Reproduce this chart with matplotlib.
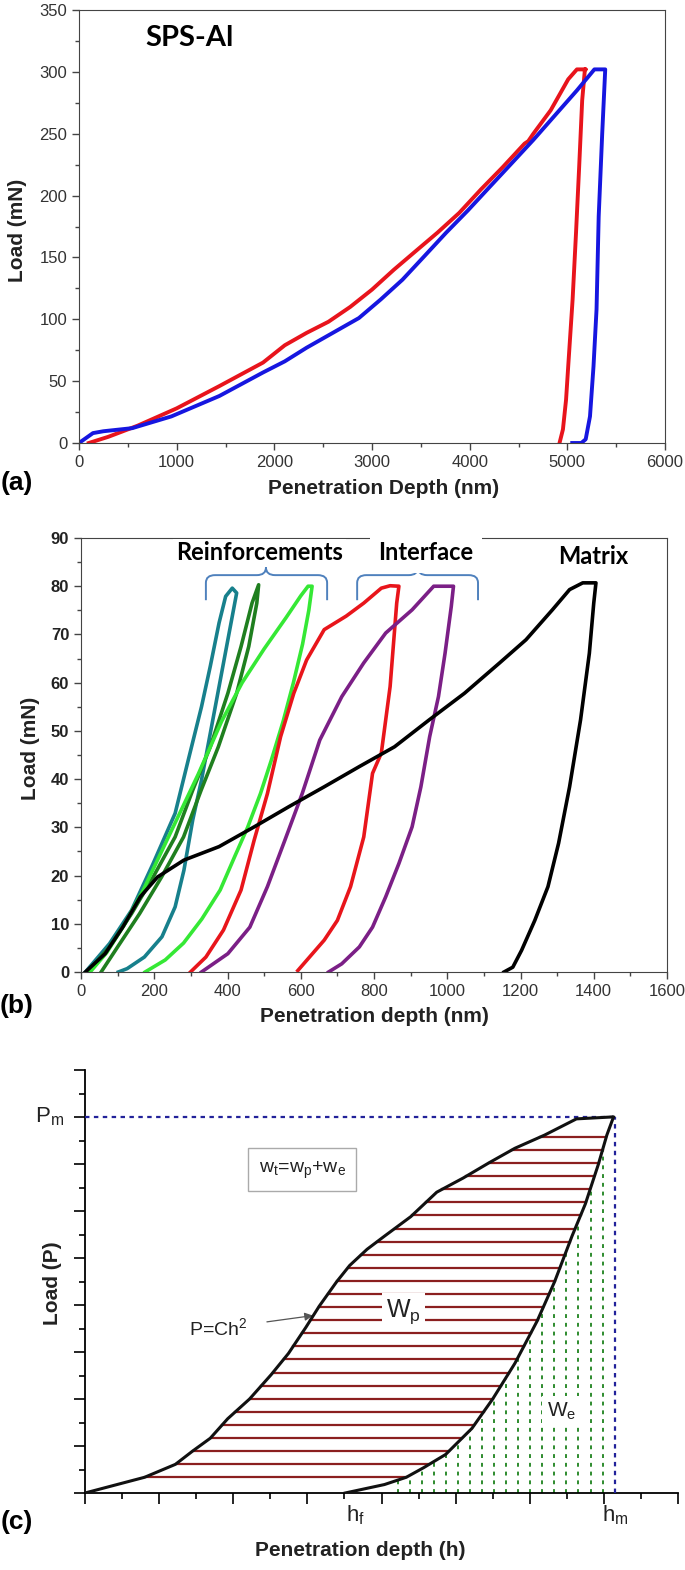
import numpy as np
import matplotlib
matplotlib.use("Agg")
import matplotlib.pyplot as plt
from matplotlib.path import Path
from matplotlib.patches import PathPatch
from matplotlib.ticker import MultipleLocator

plt.rcParams['font.family'] = ['Liberation Sans', 'DejaVu Sans']

W, H = 685, 1570

# ---------------- panel (a): SPS-Al ----------------
red_a_x = [100, 300, 600, 1000, 1437, 1884, 2107, 2330, 2554, 2777, 3000, 3223, 3446, 3670,
           3893, 4116, 4339, 4562, 4600, 4652, 4830, 5009, 5098, 5188, 5180, 5152, 5121,
           5089, 5054, 5009, 4987, 4955, 4920]
red_a_y = [0, 5, 14, 28, 46, 65, 79, 89, 98, 110, 124, 140, 155, 170, 186, 205, 223, 242,
           244, 250, 269, 294, 302, 302, 302, 277, 223, 170, 116, 62, 35, 11, 0]
blue_a_x = [0, 143, 250, 545, 946, 1437, 1884, 2107, 2330, 2598, 2866, 3089, 3312, 3536,
            3759, 3982, 4205, 4429, 4652, 4875, 5098, 5277, 5388, 5357, 5321, 5299, 5268,
            5232, 5188, 5143, 5050]
blue_a_y = [0, 8, 9.5, 12, 21.5, 38, 57, 66, 77, 89, 101, 116, 132, 151, 170, 188, 207,
            226, 245, 265, 285, 302, 302, 250, 183, 108, 62, 21.5, 3, 0, 0]

# ---------------- panel (b): reinforcements / interface / matrix ----------------
teal_x = [12, 78, 138, 197, 257, 293, 329, 353, 377, 395, 413, 425, 401, 377, 353, 329,
          305, 281, 257, 221, 173, 126, 102]
teal_y = [0, 5.9, 12.8, 22.5, 32.9, 44, 55, 63.4, 72.4, 77.9, 79.6, 78.6, 68.9, 59.2,
          49.5, 39.8, 31.5, 21.1, 13.5, 7.3, 3.1, 0.7, 0]
dkgreen_x = [18, 78, 138, 197, 257, 305, 353, 401, 437, 467, 485, 480, 458, 425, 375,
             328, 280, 220, 160, 100, 55]
dkgreen_y = [0, 5.2, 12.1, 19.7, 28, 37.7, 46.7, 57.8, 67.5, 76.5, 80.3, 76.5, 67.5,
             57.8, 46.7, 37.7, 28, 19.7, 12.1, 5.2, 0]
ltgreen_x = [25, 70, 120, 170, 220, 270, 320, 384, 440, 500, 560, 600, 620, 631, 622,
             605, 580, 552, 520, 490, 455, 420, 380, 330, 280, 230, 175]
ltgreen_y = [0, 4, 10, 17, 25, 33, 41, 52, 60, 67, 73.5, 78, 80, 80, 75, 68, 60, 52, 44,
             37, 30, 24, 17, 11, 6, 2.5, 0]
red_b_x = [299, 341, 389, 437, 473, 509, 545, 581, 616, 664, 724, 772, 820, 844, 868, 862,
           844, 820, 796, 772, 736, 700, 664, 616, 592]
red_b_y = [0, 3.1, 8.7, 17, 27.4, 37, 48.8, 57.8, 64.7, 71, 73.8, 76.5, 79.6, 80.1, 80,
           76.5, 59.2, 45.4, 41.2, 28, 17.7, 10.7, 6.6, 2.4, 0.3]
purple_x = [329, 401, 461, 509, 557, 604, 652, 712, 772, 832, 904, 963, 1017, 1011, 994,
            976, 952, 928, 904, 868, 832, 796, 760, 712, 676]
purple_y = [0, 3.8, 9.3, 17.7, 27.4, 37, 48.1, 57.1, 64.1, 70.3, 75.1, 80, 80, 75.8, 66.1,
            57.1, 48.8, 38.4, 30.1, 22.5, 15.6, 9.3, 5.2, 1.7, 0]
black_x = [12, 66, 114, 162, 209, 281, 377, 473, 568, 664, 760, 856, 951, 1047, 1143, 1215,
           1287, 1334, 1370, 1406, 1400, 1388, 1364, 1334, 1304, 1275, 1239, 1203, 1179,
           1155]
black_y = [0, 3.8, 9.3, 15.6, 19.7, 23.2, 26, 30.1, 34.3, 38.4, 42.6, 46.7, 52.3, 57.8,
           64.1, 68.9, 75.1, 79.3, 80.7, 80.7, 76.5, 66.1, 52.3, 38.4, 26.7, 17.7, 10.7,
           4.5, 1, 0]

# ---------------- panel (c): schematic ----------------
load_h = [0, 1.61, 2.44, 2.9, 3.38, 3.85, 4.44, 5.02, 5.49, 5.96, 6.32, 6.79, 7.14, 7.61,
          8.08, 8.79, 9.49, 10.2, 10.9, 11.6, 12.4, 13.26, 14.2]
load_p = [0, 0.67, 1.22, 1.78, 2.33, 3.16, 4.0, 5.03, 5.94, 7.05, 7.95, 8.99, 9.68, 10.37,
          10.93, 11.76, 12.8, 13.4, 14.05, 14.67, 15.23, 15.92, 16.0]
unload_h = [14.26, 14.08, 13.85, 13.5, 13.14, 12.67, 12.2, 11.6, 11.0, 10.44, 9.73, 9.14,
            8.67, 8.08, 7.02]
unload_p = [16, 15.23, 13.98, 12.3, 10.93, 8.99, 7.32, 5.52, 4.0, 2.75, 1.64, 1.08, 0.67,
            0.36, 0]
P_max = 16
h_max = 14.3
h_f = 7.3


def px_axes(fig, left, top, right, bottom):
    return fig.add_axes([left / W, 1 - bottom / H, (right - left) / W, (bottom - top) / H])


def ftext(fig, x, y, s, **kw):
    fig.text(x / W, 1 - y / H, s, ha='center', va='center', **kw)


def brace(ax, x0, x1, xm, y_low, y_top, y_peak, rx, ry, color):
    verts = [(x0, y_low), (x0, y_top - ry), (x0, y_top), (x0 + rx, y_top),
             (xm - rx, y_top), (xm, y_top), (xm, y_peak), (xm, y_top), (xm + rx, y_top),
             (x1 - rx, y_top), (x1, y_top), (x1, y_top - ry), (x1, y_low)]
    codes = [Path.MOVETO, Path.LINETO, Path.CURVE3, Path.CURVE3, Path.LINETO, Path.CURVE3,
             Path.CURVE3, Path.CURVE3, Path.CURVE3, Path.LINETO, Path.CURVE3, Path.CURVE3,
             Path.LINETO]
    ax.add_patch(PathPatch(Path(verts, codes), fill=False, edgecolor=color, lw=1.4,
                           clip_on=False, zorder=5))


fig = plt.figure(figsize=(W / 100, H / 100), dpi=100)
tick_col = '#333333'

# ---- (a)
ax = px_axes(fig, 79, 10, 665, 443)
ax.plot(red_a_x, red_a_y, color='#e8141c', lw=2.8, solid_joinstyle='round')
ax.plot(blue_a_x, blue_a_y, color='#1616e0', lw=2.8, solid_joinstyle='round')
ax.set_xlim(0, 6000)
ax.set_ylim(0, 350)
ax.xaxis.set_major_locator(MultipleLocator(1000))
ax.xaxis.set_minor_locator(MultipleLocator(500))
ax.yaxis.set_major_locator(MultipleLocator(50))
ax.yaxis.set_minor_locator(MultipleLocator(25))
ax.tick_params(which='major', direction='out', length=5, width=1, labelsize=12,
               labelcolor=tick_col, color='#444444')
ax.tick_params(which='minor', direction='out', length=3, width=1, color='#444444')
for s in ax.spines.values():
    s.set_color('#444444')
ax.text(1136, 327, 'SPS-Al', family=['Lato', 'DejaVu Sans'], fontweight='bold',
        fontsize=21, ha='center', va='center')
ftext(fig, 384, 489, 'Penetration Depth (nm)', fontsize=15, fontweight='bold', color='#222222')
ftext(fig, 18, 230, 'Load (mN)', fontsize=15, fontweight='bold', rotation=90, color='#222222')
ftext(fig, 17, 483, '(a)', fontsize=19, fontweight='bold')

# ---- (b)
ax = px_axes(fig, 81, 538, 667, 972)
curves_b = [(teal_x, teal_y, '#17808c'), (dkgreen_x, dkgreen_y, '#1f7f1f'),
            (ltgreen_x, ltgreen_y, '#35e835'), (red_b_x, red_b_y, '#e8151b'),
            (purple_x, purple_y, '#7b1f86'), (black_x, black_y, '#000000')]
for cx, cy, col in curves_b:
    ax.plot(cx, cy, color=col, lw=2.6, solid_joinstyle='round')
ax.set_xlim(0, 1600)
ax.set_ylim(0, 90)
ax.xaxis.set_major_locator(MultipleLocator(200))
ax.xaxis.set_minor_locator(MultipleLocator(100))
ax.yaxis.set_major_locator(MultipleLocator(10))
ax.yaxis.set_minor_locator(MultipleLocator(5))
ax.tick_params(which='major', direction='out', length=5, width=1, labelsize=12,
               color='#444444')
ax.tick_params(which='minor', direction='out', length=3, width=1, color='#444444')
ax.tick_params(axis='x', labelcolor=tick_col)
for lab in ax.get_yticklabels():
    lab.set_fontweight('bold')
    lab.set_color('#222222')
for s in ax.spines.values():
    s.set_color('#444444')
bkw = dict(family=['Lato', 'DejaVu Sans'], fontweight='bold', fontsize=17, ha='center',
           va='center', zorder=6, clip_on=False)
ax.text(487, 86.9, 'Reinforcements',
        bbox=dict(facecolor='white', edgecolor='none', pad=2), **bkw)
ax.text(942, 86.9, 'Interface',
        bbox=dict(facecolor='white', edgecolor='none', pad=6), **bkw)
ax.text(1398, 86.1, 'Matrix', **bkw)
brace(ax, 341, 672, 505, 77.1, 82.3, 83.9, 25, 1.6, '#4f81bd')
brace(ax, 754, 1084, 920, 77.1, 82.3, 83.9, 25, 1.6, '#4f81bd')
ftext(fig, 374, 1017, 'Penetration depth (nm)', fontsize=15, fontweight='bold', color='#222222')
ftext(fig, 30, 748, 'Load (mN)', fontsize=15, fontweight='bold', rotation=90, color='#222222')
ftext(fig, 17, 1006, '(b)', fontsize=19, fontweight='bold')

# ---- (c)
ax = px_axes(fig, 85, 1070, 678, 1493)
ax.set_xlim(0, 16)
ax.set_ylim(0, 18)
for side in ('top', 'right'):
    ax.spines[side].set_visible(False)
ax.spines['left'].set_linewidth(1.3)
ax.spines['bottom'].set_linewidth(1.3)
ax.xaxis.set_major_locator(MultipleLocator(2))
ax.xaxis.set_minor_locator(MultipleLocator(1))
ax.yaxis.set_major_locator(MultipleLocator(2))
ax.yaxis.set_minor_locator(MultipleLocator(1))
ax.tick_params(which='major', direction='out', length=8, width=1.2,
               labelbottom=False, labelleft=False)
ax.tick_params(which='minor', direction='out', length=4, width=1.2)

uh_up = unload_h[::-1]
up_up = unload_p[::-1]
# horizontal hatch lines (plastic work)
for lev in np.arange(0.67, 15.3, 0.557):
    xa = np.interp(lev, load_p, load_h)
    xb = np.interp(lev, up_up, uh_up)
    ax.plot([xa, xb], [lev, lev], color='#8b1f1f', lw=1.6, zorder=2)
# vertical dotted lines (elastic work)
for xv in np.arange(8.44, 14.0, 0.325):
    yt = np.interp(xv, uh_up, up_up)
    ax.plot([xv, xv], [0, yt], color='#2e8b2e', lw=1.4, ls=(0, (2, 2.5)), zorder=2)

ax.plot([0, h_max], [P_max, P_max], color='#22229a', lw=1.6, ls=(0, (2, 2)), zorder=3)
ax.plot([h_max, h_max], [0, P_max], color='#22229a', lw=1.6, ls=(0, (2, 2)), zorder=3)
ax.plot(load_h, load_p, color='#111111', lw=2.2, zorder=4, solid_joinstyle='round')
ax.plot(unload_h, unload_p, color='#111111', lw=2.2, zorder=4, solid_joinstyle='round')

ax.text(5.86, 13.75, r'w$_\mathregular{t}$=w$_\mathregular{p}$+w$_\mathregular{e}$',
        fontsize=14, ha='center', va='center', color='#222222',
        bbox=dict(facecolor='white', edgecolor='#aaaaaa', boxstyle='square,pad=0.55'))
ax.text(8.6, 7.7, r'W$_\mathregular{p}$', fontsize=18, ha='center', va='center',
        color='#222222', zorder=5,
        bbox=dict(facecolor='white', edgecolor='none', pad=3))
ax.text(12.85, 3.5, r'W$_\mathregular{e}$', fontsize=15, ha='center', va='center',
        color='#222222', zorder=5,
        bbox=dict(facecolor='white', edgecolor='none', pad=3))
ax.annotate(r'P=Ch$^\mathregular{2}$', xy=(6.15, 7.55), xytext=(3.6, 7.0),
            fontsize=14, ha='center', va='center', color='#222222',
            arrowprops=dict(arrowstyle='-|>', color='#555555', lw=0.9,
                            shrinkA=12, shrinkB=0, mutation_scale=12))
ax.text(-0.035, P_max, r'P$_\mathregular{m}$', transform=ax.get_yaxis_transform(),
        fontsize=16, ha='right', va='center', color='#222222')
ax.text(h_f, -0.45, r'h$_\mathregular{f}$', fontsize=16, ha='center', va='top',
        color='#222222')
ax.text(h_max, -0.45, r'h$_\mathregular{m}$', fontsize=16, ha='center', va='top',
        color='#222222')
ftext(fig, 360, 1550, 'Penetration depth (h)', fontsize=15, fontweight='bold', color='#222222')
ftext(fig, 53, 1283, 'Load (P)', fontsize=15, fontweight='bold', rotation=90, color='#222222')
ftext(fig, 17, 1522, '(c)', fontsize=19, fontweight='bold')

fig.savefig('out.png', dpi=100)
